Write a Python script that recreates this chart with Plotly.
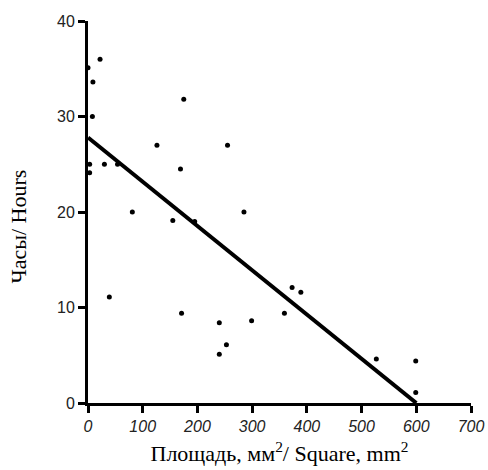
import plotly.graph_objects as go

area = [0, 9, 22, 8, 3, 3, 30, 54, 126, 175, 169, 255, 285, 81, 155, 195,
        39, 171, 240, 240, 253, 299, 373, 389, 359, 527, 599, 599]
hours = [35.1, 33.6, 36.0, 30.0, 25.0, 24.1, 25.0, 25.0, 27.0, 31.8, 24.5, 27.0, 20.0, 20.0, 19.1, 19.0,
         11.1, 9.4, 8.4, 5.1, 6.1, 8.6, 12.1, 11.6, 9.4, 4.6, 4.4, 1.1]
fit_x = [0, 600]
fit_y = [27.8, 0]

x_ticks = [0, 100, 200, 300, 400, 500, 600, 700]
y_ticks = [0, 10, 20, 30, 40]

fig = go.Figure()
fig.add_trace(go.Scatter(x=fit_x, y=fit_y, mode="lines",
                         line=dict(color="black", width=4), cliponaxis=False))
fig.add_trace(go.Scatter(x=area, y=hours, mode="markers",
                         marker=dict(color="black", size=5), cliponaxis=False))

fig.update_layout(
    width=488, height=470,
    margin=dict(l=88, r=17, t=21, b=67),
    plot_bgcolor="white", paper_bgcolor="white",
    showlegend=False,
    xaxis=dict(range=[0, 700], tickvals=x_ticks, showgrid=False, zeroline=False,
               automargin=False,
               showline=True, linecolor="black", linewidth=3,
               ticks="outside", ticklen=7, tickwidth=3, tickcolor="black",
               tickfont=dict(family="Liberation Sans, Arial", size=16, color="#222", style="italic"),
               title=dict(text="Площадь, мм<sup>2</sup>/ Square, mm<sup>2</sup>",
                          font=dict(family="Liberation Serif, Times New Roman", size=22, color="black"),
                          standoff=12)),
    yaxis=dict(range=[0, 40], tickvals=y_ticks, showgrid=False, zeroline=False,
               automargin=False,
               showline=True, linecolor="black", linewidth=3,
               ticks="outside", ticklen=7, tickwidth=3, tickcolor="black",
               tickfont=dict(family="Liberation Sans, Arial", size=16, color="#222")),
    annotations=[dict(text="Часы/ Hours", xref="paper", yref="paper",
                      x=-0.1815, y=0.463, xanchor="center", yanchor="middle",
                      textangle=-90, showarrow=False,
                      font=dict(family="Liberation Serif, Times New Roman", size=22, color="black"))],
)
fig.write_html("out.html")
